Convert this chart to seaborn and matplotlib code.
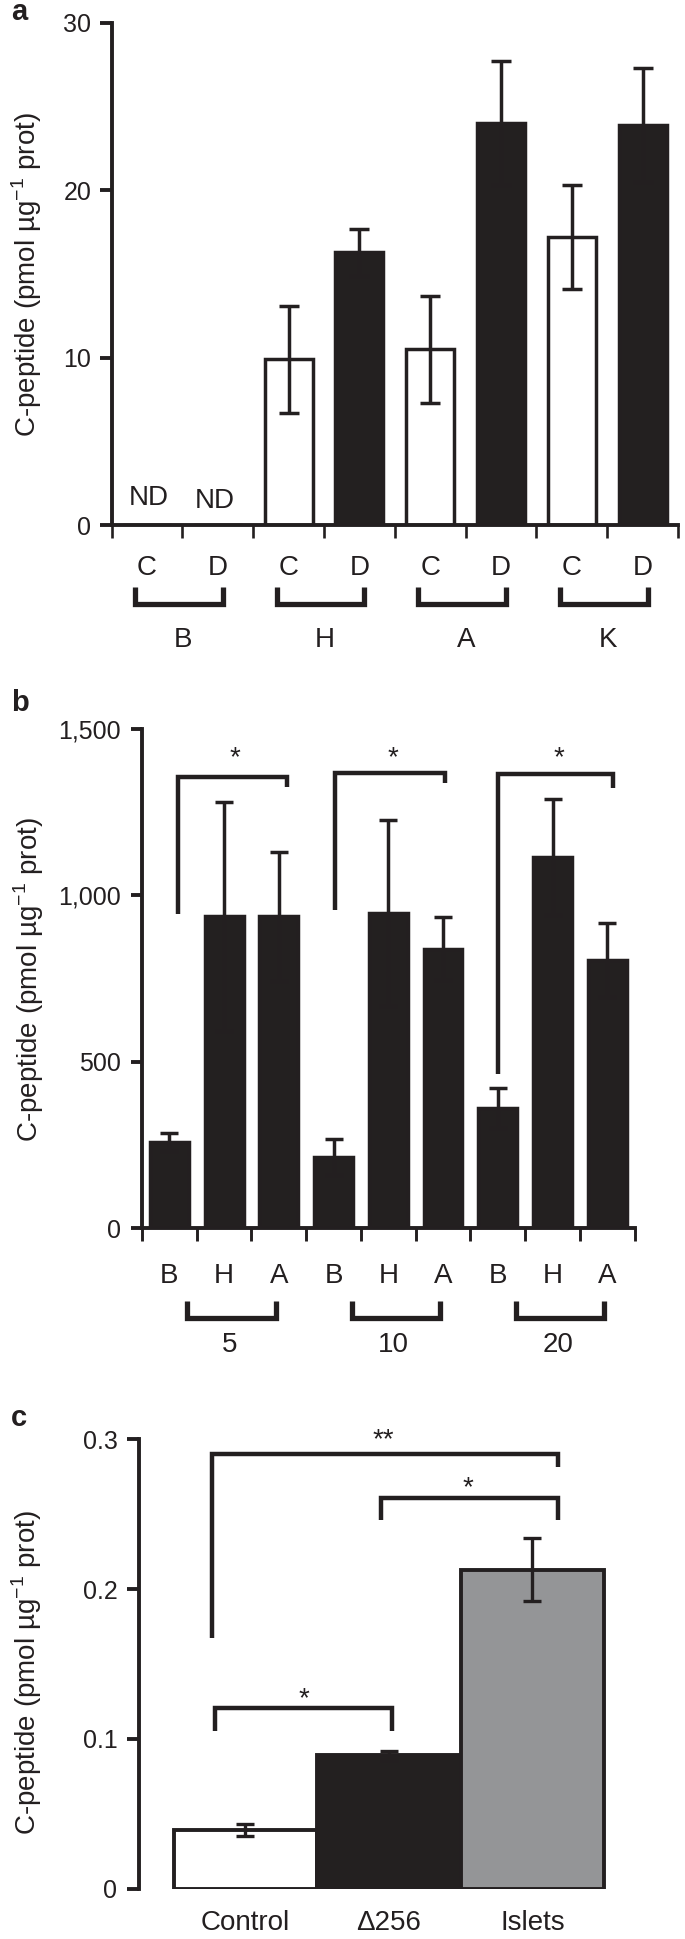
"""
plot.py

C-peptide content, three panels (a, b, c) stacked vertically.
"""

import numpy as np
import pandas as pd
import seaborn as sns
import matplotlib.pyplot as plt
from matplotlib.ticker import FixedLocator, StrMethodFormatter

# ---- data ----
# panel a: C / D per line, None = not detected
a_groups = ["B", "H", "A", "K"]
a_conds = ["C", "D"]
a_values = [None, None, 9.9, 16.3, 10.5, 24.0, 17.2, 23.9]
a_errors = [None, None, 3.2, 1.4, 3.2, 3.7, 3.1, 3.4]

# panel b: B / H / A at three doses
b_doses = ["5", "10", "20"]
b_cells = ["B", "H", "A"]
b_values = [258, 936, 936, 214, 946, 839, 362, 1114, 805]
b_errors = [27, 345, 193, 53, 279, 95, 60, 174, 110]

# panel c
c_labels = ["Control", "Δ256", "Islets"]
c_values = [0.039, 0.089, 0.213]
c_errors = [0.004, 0.003, 0.021]

DARK = "#231f20"
GRAY = "#939598"
W, H = 685, 1939
LW = 2.8          # spines
SLW = 3.2         # significance brackets
BLW = 2.5         # bar edges, error bars
YLABEL = "C-peptide (pmol µg$^{-1}$ prot)"

sns.set_style("ticks")
plt.rcParams["font.family"] = ["Liberation Sans", "DejaVu Sans"]
plt.rcParams["mathtext.fontset"] = "custom"
plt.rcParams["mathtext.rm"] = "Liberation Sans"
plt.rcParams["font.size"] = 20
plt.rcParams["text.color"] = DARK
plt.rcParams["xtick.color"] = DARK
plt.rcParams["ytick.color"] = DARK
plt.rcParams["axes.labelcolor"] = DARK

fig = plt.figure(figsize=(W / 100, H / 100), dpi=100)


def px_axes(left, top, right, bottom):
    return fig.add_axes([left / W, 1 - bottom / H, (right - left) / W, (bottom - top) / H])


def style(ax, ytick_len, ytick_pad):
    sns.despine(ax=ax)
    for s in ["left", "bottom"]:
        ax.spines[s].set_linewidth(LW)
        ax.spines[s].set_color(DARK)
    ax.set_xlabel("")
    ax.tick_params(axis="y", length=ytick_len, width=LW, pad=ytick_pad,
                   direction="out", labelsize=18)


def under_bracket(ax, x0, x1, y_top, y_bot):
    ax.plot([x0, x0, x1, x1], [y_top, y_bot, y_bot, y_top], color=DARK, lw=3.8,
            clip_on=False, solid_joinstyle="miter", solid_capstyle="butt")


def sig_bracket(ax, x0, x1, y_left, y_high, y_right):
    ax.plot([x0, x0, x1, x1], [y_left, y_high, y_high, y_right], color=DARK, lw=SLW,
            clip_on=False, solid_joinstyle="miter", solid_capstyle="butt")


# ---------------- panel a ----------------
ax_a = px_axes(111.6, 23, 678, 525)
df_a = pd.DataFrame({
    "key": [g + c for g in a_groups for c in a_conds],
    "cond": [c for g in a_groups for c in a_conds],
    "value": [v if v is not None else 0 for v in a_values],
})
sns.barplot(data=df_a, x="key", y="value", hue="cond", palette={"C": "white", "D": DARK},
            dodge=False, width=0.68, edgecolor=DARK, linewidth=BLW, errorbar=None,
            legend=False, ax=ax_a)
idx = [i for i, v in enumerate(a_values) if v is not None]
ax_a.errorbar(idx, [a_values[i] for i in idx], yerr=[a_errors[i] for i in idx],
              fmt="none", ecolor=DARK, elinewidth=BLW, capsize=7, capthick=BLW, zorder=3)
for i, v in enumerate(a_values):
    if v is None:
        ax_a.text(i + (0.025 if i % 2 == 0 else -0.05), 1.2 if i % 2 == 0 else 1.0, "ND",
                  ha="center", va="baseline")
ax_a.set_xlim(-0.5, 7.5)
ax_a.set_ylim(0, 30)
ax_a.set_yticks([0, 10, 20, 30])
ax_a.set_xticks(range(8), labels=a_conds * 4)
ax_a.xaxis.set_minor_locator(FixedLocator(np.arange(-0.5, 8, 1)))
style(ax_a, 8.5, 6)
ax_a.tick_params(axis="x", which="major", length=0, pad=21.8)
ax_a.tick_params(axis="x", which="minor", length=9, width=1.9, direction="out")
ax_a.set_ylabel(YLABEL)
ax_a.yaxis.set_label_coords(-0.119, 0.498)
for g, name in enumerate(a_groups):
    under_bracket(ax_a, 2 * g - 0.17, 2 * g + 1.07, -3.70, -4.75)
    ax_a.text(2 * g + 0.51, -7.29, name, ha="center", va="baseline")

# ---------------- panel b ----------------
ax_b = px_axes(142, 728.6, 634.6, 1228.2)
df_b = pd.DataFrame({
    "key": [d + "-" + c for d in b_doses for c in b_cells],
    "value": b_values,
})
sns.barplot(data=df_b, x="key", y="value", color=DARK, width=0.71, edgecolor=DARK,
            linewidth=BLW, errorbar=None, ax=ax_b)
ax_b.errorbar(range(len(b_values)), b_values, yerr=b_errors, fmt="none", ecolor=DARK,
              elinewidth=BLW, capsize=6.2, capthick=BLW, zorder=3)
ax_b.set_xlim(-0.5, 8.5)
ax_b.set_ylim(0, 1500)
ax_b.set_yticks([0, 500, 1000, 1500])
ax_b.yaxis.set_major_formatter(StrMethodFormatter("{x:,.0f}"))
ax_b.set_xticks(range(9), labels=b_cells * 3)
ax_b.xaxis.set_minor_locator(FixedLocator(np.arange(-0.5, 9, 1)))
style(ax_b, 8, 7)
ax_b.tick_params(axis="x", which="major", length=0, pad=25)
ax_b.tick_params(axis="x", which="minor", length=9.5, width=2.1, direction="out")
ax_b.set_ylabel(YLABEL)
ax_b.yaxis.set_label_coords(-0.195, 0.498)

# significance brackets over each dose
sig_b = [(0.16, 2.15, 942, 1354, 1324, 1.20),
         (3.02, 5.03, 955, 1366, 1336, 4.08),
         (6.00, 8.10, 463, 1363, 1322, 7.12)]
for x0, x1, yl, yh, yr, xs in sig_b:
    sig_bracket(ax_b, x0, x1, yl, yh, yr)
    ax_b.text(xs, 1391, "*", ha="center", va="baseline")
for g, dose in enumerate(b_doses):
    under_bracket(ax_b, 3 * g + 0.33, 3 * g + 1.95, -217.7, -268.7)
    ax_b.text(3 * g + 1.1, -370.8, dose, ha="center", va="baseline")

# ---------------- panel c ----------------
ax_c = px_axes(139, 1439.4, 615, 1888.6)
df_c = pd.DataFrame({"label": c_labels, "value": c_values})
sns.barplot(data=df_c, x="label", y="value", hue="label",
            palette=["white", DARK, GRAY], width=1.0, edgecolor=DARK, linewidth=2.8,
            errorbar=None, legend=False, ax=ax_c)
ax_c.errorbar(range(3), c_values, yerr=c_errors, fmt="none", ecolor=DARK,
              elinewidth=2.4, capsize=6.2, capthick=2.4, zorder=3)
ax_c.set_xlim(-0.742, 2.575)
ax_c.set_ylim(0, 0.3)
ax_c.set_yticks([0, 0.1, 0.2, 0.3], labels=["0", "0.1", "0.2", "0.3"])
style(ax_c, 8.5, 7)
ax_c.spines["bottom"].set_visible(False)
ax_c.tick_params(axis="x", length=0, pad=15.4)
ax_c.set_ylabel(YLABEL)
ax_c.yaxis.set_label_coords(-0.2, 0.48)

sig_bracket(ax_c, -0.23, 2.176, 0.1672, 0.2903, 0.2818)
ax_c.text(0.96, 0.295, "**", ha="center", va="baseline")
sig_bracket(ax_c, 0.942, 2.176, 0.2462, 0.2611, 0.2462)
ax_c.text(1.553, 0.2625, "*", ha="center", va="baseline")
sig_bracket(ax_c, -0.21, 1.02, 0.1054, 0.1206, 0.1054)
ax_c.text(0.41, 0.1215, "*", ha="center", va="baseline")

# panel letters
fig.text(11 / W, 1 - 20 / H, "a", fontsize=21, fontweight="bold", va="baseline")
fig.text(11 / W, 1 - 710.7 / H, "b", fontsize=21, fontweight="bold", va="baseline")
fig.text(11 / W, 1 - 1425.7 / H, "c", fontsize=21, fontweight="bold", va="baseline")

fig.savefig("out.png", dpi=100)
